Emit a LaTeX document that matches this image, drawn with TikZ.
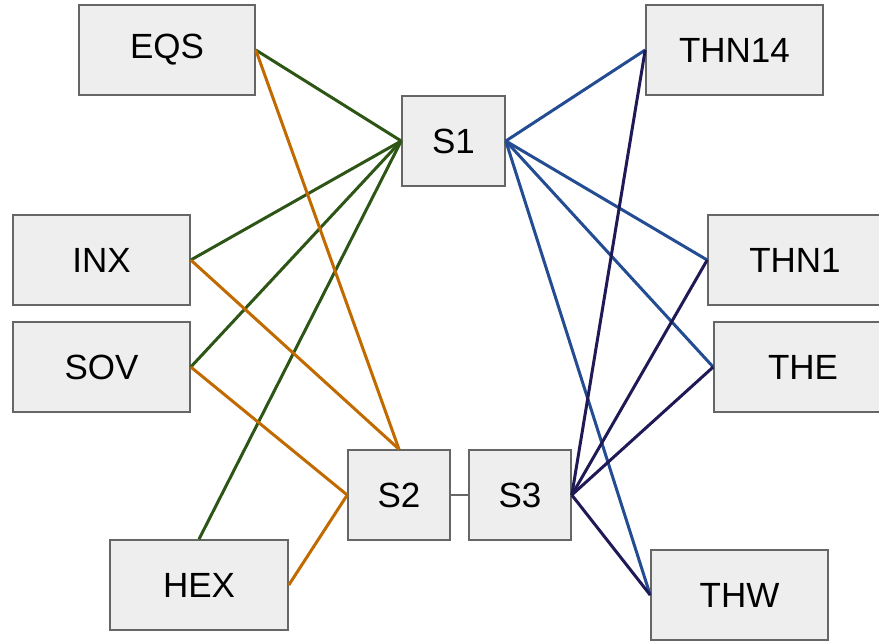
\documentclass[tikz,border=0pt]{standalone}
\usepackage{fontspec}
\setmainfont{Liberation Sans}
\usepackage{tikz}
\usepackage{xcolor}

\definecolor{boxfill}{HTML}{EEEEEE}
\definecolor{boxline}{HTML}{666666}
\definecolor{leafgreen}{HTML}{2D5516}
\definecolor{rust}{HTML}{C06A00}
\definecolor{steel}{HTML}{234C92}
\definecolor{navy}{HTML}{1F1A55}

\begin{document}
\begin{tikzpicture}[x=1pt, y=-1pt,
    site/.style={draw=boxline, line width=1.6pt, fill=boxfill, minimum height=90pt,
      inner sep=0pt, font=\fontsize{35}{40}\selectfont},
    link/.style={line width=3pt}]
  \useasboundingbox (0,0) rectangle (879,642);

  % Left column
  \node[site, minimum width=176pt] (EQS) at (167, 50) {EQS};
  \node[site, minimum width=177pt] (INX) at (101.5, 260) {INX};
  \node[site, minimum width=177pt] (SOV) at (101.5, 367) {SOV};
  \node[site, minimum width=178pt] (HEX) at (199, 585) {HEX};

  % Centre
  \node[site, minimum width=103pt] (S1) at (453.5, 141) {S1};
  \node[site, minimum width=102pt] (S2) at (399, 495) {S2};
  \node[site, minimum width=102pt] (S3) at (520, 495) {S3};

  % Right column (THN1 and THE run off the edge)
  \node[site, minimum width=177pt] (THN14) at (734.5, 50) {THN14};
  \node[site, minimum width=174pt] (THN1) at (795, 260) {THN1};
  \node[site, minimum width=178pt] (THE) at (803, 367) {THE};
  \node[site, minimum width=177pt] (THW) at (739.5, 595) {THW};

  % S2 -- S3
  \draw[boxline, line width=1.6pt] (S2.east) -- (S3.west);

  % Links into S1 (left)
  \foreach \n in {EQS, INX, SOV}
    \draw[link, leafgreen] (S1.west) -- (\n.east);
  \draw[link, leafgreen] (S1.west) -- (HEX.north);

  % Links into S2
  \draw[link, rust] (S2.north) -- (EQS.east);
  \draw[link, rust] (S2.north) -- (INX.east);
  \draw[link, rust] (S2.west) -- (SOV.east);
  \draw[link, rust] (S2.west) -- (HEX.east);

  % Links out of S1 (right)
  \foreach \n in {THN14, THN1, THE, THW}
    \draw[link, steel] (S1.east) -- (\n.west);

  % Links out of S3
  \foreach \n in {THN14, THN1, THE, THW}
    \draw[link, navy] (S3.east) -- (\n.west);
\end{tikzpicture}
\end{document}
